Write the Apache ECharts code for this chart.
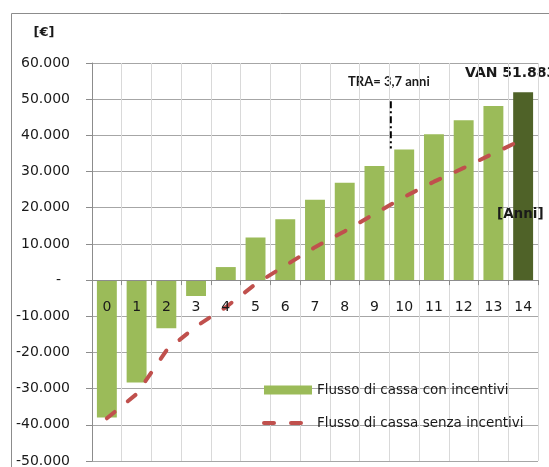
<!DOCTYPE html>
<html>
<head>
<meta charset="utf-8">
<script src="https://cdn.jsdelivr.net/npm/echarts@6/dist/echarts.min.js"></script>
<style>
  html, body { margin: 0; padding: 0; background: #ffffff; }
  #chart { width: 549px; height: 467px; }
</style>
</head>
<body>
<div id="chart"></div>
<script>
// Years of the investment horizon
const years = ['0', '1', '2', '3', '4', '5', '6', '7', '8', '9', '10', '11', '12', '13', '14'];

// Cumulative cash flow with incentives [€]
const withIncentives = [-38000, -28300, -13300, -4400, 3600, 11800, 16800, 22200, 26900,
  31500, 36100, 40300, 44200, 48100, 51883];

// Cumulative cash flow without incentives [€]
const withoutIncentives = [-38200, -31500, -19500, -12800, -7500, -1100, 4000, 9100, 13500,
  18300, 23000, 27200, 31000, 35000, 38900];

// Value axis range and step [€]
const yMin = -50000;
const yMax = 60000;
const yStep = 10000;

// Payback-time marker (category position, value span)
const paybackX = 9.55;
const paybackSpan = [49400, 36400];

const seriesNames = ['Flusso di cassa con incentivi', 'Flusso di cassa senza incentivi'];
const paybackText = 'TRA= 3,7 anni';

const FONT = 'DejaVu Sans';
const TEXT = '#1a1a1a';
const DASH = { color: '#c0504d', width: 4, type: [10, 17], cap: 'round' };

// 60000 -> "60.000", 0 -> "-"
function euro(v) {
  if (v === 0) return '-\u2007';
  const s = Math.abs(Math.round(v)).toString().replace(/\B(?=(\d{3})+(?!\d))/g, '.');
  return (v < 0 ? '-' : '') + s;
}

const barData = withIncentives.map((v, i) =>
  i === withIncentives.length - 1 ? { value: v, itemStyle: { color: '#4f6228' } } : v);

// year labels sit just under the zero line, on top of the bars
const yearAnchors = years.map((y, i) => [i, 0]);

const chart = echarts.init(document.getElementById('chart'), null, { renderer: 'canvas' });

chart.setOption({
  animation: false,
  backgroundColor: '#ffffff',
  textStyle: { fontFamily: FONT },
  grid: { left: 92, top: 63, width: 446, height: 398, containLabel: false, outerBoundsMode: 'none' },
  legend: {
    data: [
      { name: seriesNames[0], icon: 'rect' },
      { name: seriesNames[1], itemStyle: { opacity: 0 }, lineStyle: DASH }
    ],
    orient: 'vertical',
    left: 257,
    top: 378,
    itemWidth: 48,
    itemHeight: 9,
    itemGap: 19,
    textStyle: { fontFamily: FONT, fontSize: 13.5, color: TEXT },
    selectedMode: false
  },
  xAxis: [
    {
      // baseline at zero with ticks at the year boundaries
      type: 'category',
      data: years,
      position: 'bottom',
      z: 10,
      axisLine: { show: true, onZero: true, lineStyle: { color: '#8c8c8c', width: 1 } },
      axisTick: { show: true, length: 5, lineStyle: { color: '#8c8c8c' } },
      axisLabel: { show: false },
      splitLine: { show: false }
    },
    {
      // continuous position axis for the payback marker
      type: 'value',
      min: -0.5,
      max: 14.5,
      show: false,
      axisLine: { onZero: false },
      splitLine: { show: false }
    },
    {
      // vertical grid lines behind the bars
      type: 'category',
      data: years,
      position: 'bottom',
      z: 0,
      axisLine: { show: false, onZero: false },
      axisTick: { show: false },
      axisLabel: { show: false },
      splitLine: { show: true, lineStyle: { color: '#d9d9d9', width: 1 } }
    }
  ],
  yAxis: {
    type: 'value',
    min: yMin,
    max: yMax,
    interval: yStep,
    axisLine: { show: true, onZero: false, lineStyle: { color: '#8c8c8c', width: 1 } },
    axisTick: { show: true, length: 6, lineStyle: { color: '#8c8c8c' } },
    axisLabel: { margin: 22, fontFamily: FONT, fontSize: 14, color: TEXT, formatter: euro },
    splitLine: { show: true, lineStyle: { color: '#a6a6a6', width: 1 } }
  },
  series: [
    {
      name: seriesNames[0],
      type: 'bar',
      xAxisIndex: 0,
      data: barData,
      barCategoryGap: '33%',
      itemStyle: { color: '#9bbb59' },
      z: 2
    },
    {
      name: seriesNames[1],
      type: 'line',
      xAxisIndex: 0,
      data: withoutIncentives,
      symbol: 'none',
      lineStyle: DASH,
      itemStyle: { color: '#c0504d' },
      z: 3
    },
    {
      name: 'TRA',
      type: 'line',
      xAxisIndex: 1,
      data: [[paybackX, paybackSpan[0]], [paybackX, paybackSpan[1]]],
      symbol: 'none',
      lineStyle: { color: '#000000', width: 2, type: [7, 3, 2, 3] },
      z: 4
    },
    {
      name: 'years',
      type: 'scatter',
      xAxisIndex: 0,
      data: yearAnchors,
      symbol: 'rect',
      symbolSize: 1,
      itemStyle: { color: 'rgba(0,0,0,0)' },
      silent: true,
      z: 10,
      label: {
        show: true,
        position: 'bottom',
        distance: 20,
        fontFamily: FONT,
        fontSize: 14,
        color: TEXT,
        opacity: 1,
        formatter: (p) => years[p.dataIndex]
      },
      labelLayout: { hideOverlap: false }
    }
  ],
  graphic: [
    {
      type: 'rect',
      shape: { x: 11.5, y: 13.5, width: 600, height: 500 },
      style: { fill: 'none', stroke: '#8c8c8c', lineWidth: 1 },
      silent: true,
      z: -1
    },
    {
      type: 'text',
      x: 44, y: 33,
      style: { text: '[€]', font: 'bold 13px "DejaVu Sans"', fill: TEXT, textAlign: 'center', textVerticalAlign: 'middle' }
    },
    {
      type: 'text',
      x: 348, y: 82,
      style: { text: paybackText, font: 'bold 13px Lato', fill: TEXT, textAlign: 'left', textVerticalAlign: 'middle' }
    },
    {
      type: 'text',
      x: 465, y: 73,
      style: { text: 'VAN ' + euro(withIncentives[withIncentives.length - 1]), font: 'bold 14px "DejaVu Sans"', fill: TEXT, textAlign: 'left', textVerticalAlign: 'middle' }
    },
    {
      type: 'text',
      x: 497, y: 214,
      style: { text: '[Anni]', font: 'bold 13.5px "DejaVu Sans"', fill: TEXT, textAlign: 'left', textVerticalAlign: 'middle' },
      z: 20
    }
  ]
});
</script>
</body>
</html>
